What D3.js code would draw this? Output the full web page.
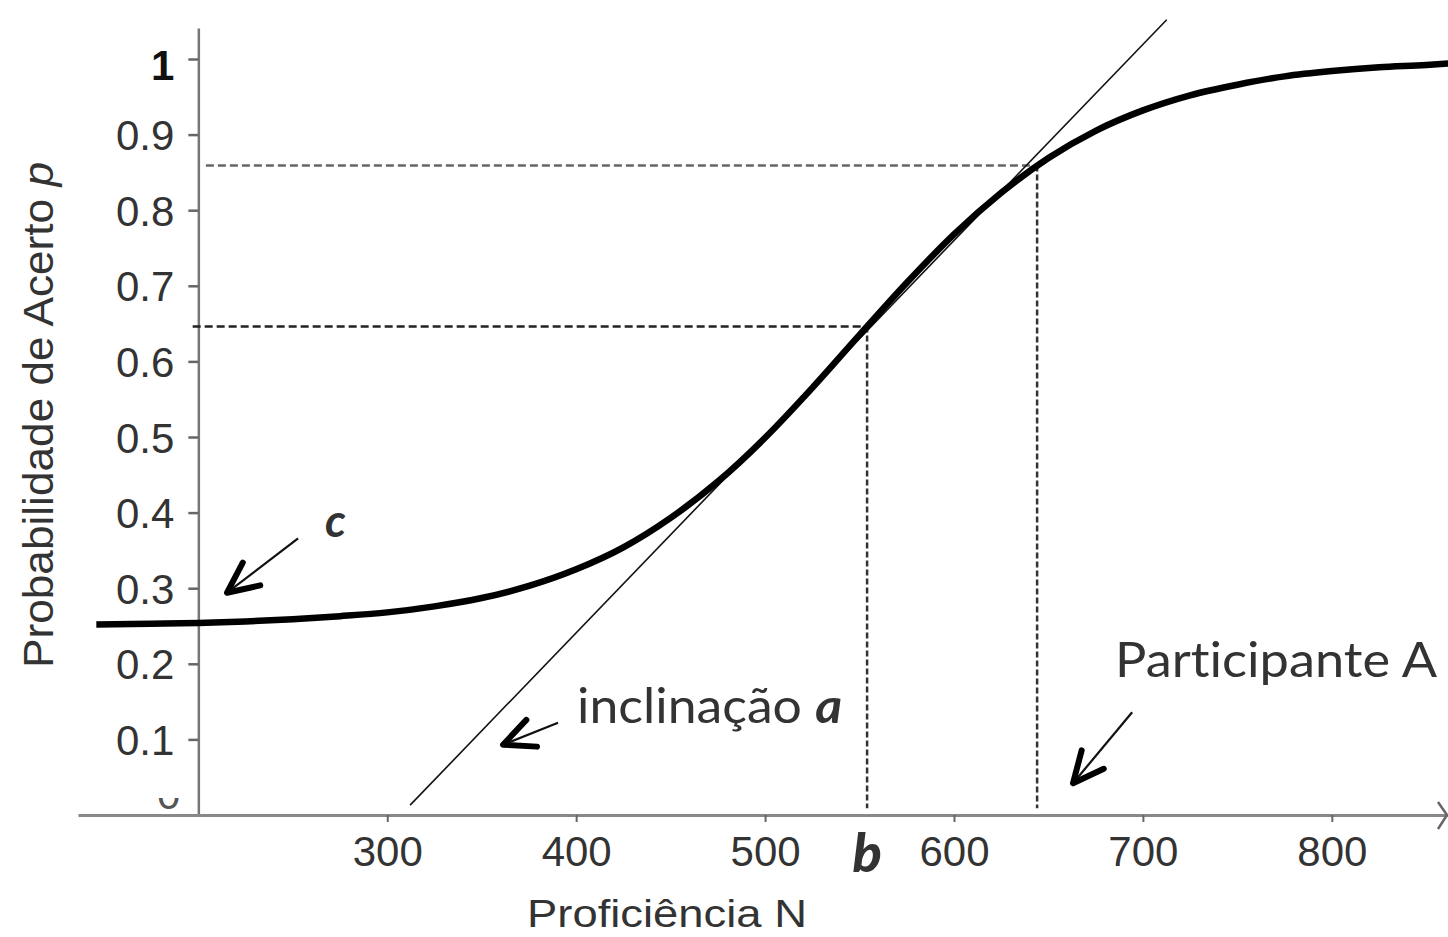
<!DOCTYPE html>
<html>
<head>
<meta charset="utf-8">
<script src="https://cdn.jsdelivr.net/npm/d3@7"></script>
<style>
  body { margin: 0; background: #fff; }
  svg { display: block; }
  text { font-variant-ligatures: none; }
</style>
</head>
<body>
<script>
// Curva caracteristica do item
var proficiencia = [146, 175, 200, 225, 250, 275, 300, 325, 350, 375, 400, 425, 450, 475, 500,
                    525, 550, 575, 600, 625, 650, 675, 700, 725, 750, 775, 800, 825, 850, 862];
var probabilidade = [0.252, 0.253, 0.254, 0.256, 0.259, 0.263, 0.268, 0.276, 0.287, 0.303, 0.325,
                     0.354, 0.393, 0.441, 0.499, 0.565, 0.635, 0.704, 0.768, 0.823, 0.869, 0.905,
                     0.932, 0.952, 0.966, 0.977, 0.984, 0.989, 0.992, 0.994];
var xTicks = [300, 400, 500, 600, 700, 800];
var yTicks = [0.1, 0.2, 0.3, 0.4, 0.5, 0.6, 0.7, 0.8, 0.9, 1];
var yTickLabels = ["0.1", "0.2", "0.3", "0.4", "0.5", "0.6", "0.7", "0.8", "0.9", "1"];
// pontos marcados: b e participante A
var marcaN = [554, 644];
var marcaP = [0.646, 0.859];
var marcaInicio = [197, 204];
// reta tangente (inclinacao a)
var tangenteN = [312.1, 712.6];
var tangenteP = [0.013, 1.052];

var width = 1448, height = 937;

var svg = d3.select("body").append("svg")
    .attr("width", width)
    .attr("height", height);

// Scales
var xScale = d3.scaleLinear().domain([136.3, 861.5]).range([78, 1448]);
var yScale = d3.scaleLinear().domain([0, 1.041]).range([815, 28]);

// Y axis
var yAxis = d3.axisLeft(yScale)
    .tickValues(yTicks)
    .tickFormat(function(d, i) { return yTickLabels[i]; })
    .tickSize(10)
    .tickSizeOuter(0)
    .tickPadding(14);
var gy = svg.append("g")
    .attr("transform", "translate(" + xScale(200) + ",0)")
    .call(yAxis);
gy.select(".domain").attr("stroke", "#777").attr("stroke-width", 2.5);
gy.selectAll(".tick line").attr("stroke", "#666").attr("stroke-width", 2.5);
gy.selectAll(".tick text")
    .attr("font-family", "'Liberation Sans', Arial, sans-serif")
    .attr("font-size", 42)
    .attr("fill", "#333")
    .attr("dy", "0.36em");
gy.selectAll(".tick text").filter(function(d) { return d === 1; })
    .attr("font-weight", "bold").attr("fill", "#111").attr("dy", "0.5em");

// "0" partially hidden below the axis
var clip = svg.append("clipPath").attr("id", "zeroClip");
clip.append("rect").attr("x", 150).attr("y", yScale(0) - 17).attr("width", 40).attr("height", 11);
svg.append("text")
    .attr("clip-path", "url(#zeroClip)")
    .attr("x", xScale(200) - 18)
    .attr("y", yScale(0) - 6)
    .attr("text-anchor", "end")
    .attr("font-family", "'Liberation Sans', Arial, sans-serif")
    .attr("font-size", 42)
    .attr("fill", "#555")
    .text("0");

// X axis
var xAxis = d3.axisBottom(xScale)
    .tickValues(xTicks)
    .tickSize(7)
    .tickSizeOuter(0)
    .tickPadding(14);
var gx = svg.append("g")
    .attr("transform", "translate(0," + yScale(0) + ")")
    .call(xAxis);
gx.select(".domain").attr("stroke", "#888").attr("stroke-width", 3);
gx.selectAll(".tick line").attr("stroke", "#666").attr("stroke-width", 2);
gx.selectAll(".tick text")
    .attr("font-family", "'Liberation Sans', Arial, sans-serif")
    .attr("font-size", 42)
    .attr("fill", "#333")
    .attr("dy", "0.72em");
// arrow head at the end of the x axis
var xEnd = xScale.range()[1];
svg.append("path")
    .attr("d", "M" + (xEnd - 10) + "," + (yScale(0) - 13) + "L" + (xEnd - 1) + "," + yScale(0) +
               "L" + (xEnd - 10) + "," + (yScale(0) + 14))
    .attr("fill", "none").attr("stroke", "#666").attr("stroke-width", 2.5);

// Axis titles
svg.append("text")
    .attr("x", 527).attr("y", 927)
    .attr("font-family", "'Liberation Sans', Arial, sans-serif")
    .attr("font-size", 38)
    .attr("fill", "#333")
    .attr("textLength", 280)
    .attr("lengthAdjust", "spacingAndGlyphs")
    .text("Proficiência N");

var yTitle = svg.append("text")
    .attr("transform", "translate(53,668) rotate(-90)")
    .attr("font-family", "'Liberation Sans', Arial, sans-serif")
    .attr("font-size", 42)
    .attr("fill", "#333")
    .attr("textLength", 506)
    .attr("lengthAdjust", "spacingAndGlyphs");
yTitle.append("tspan").text("Probabilidade de Acerto ");
yTitle.append("tspan").attr("font-style", "italic").text("p");

// Dashed reference lines
marcaN.forEach(function(n, i) {
  svg.append("line")
      .attr("x1", xScale(marcaInicio[i])).attr("x2", xScale(n))
      .attr("y1", yScale(marcaP[i])).attr("y2", yScale(marcaP[i]))
      .attr("stroke", i === 0 ? "#222" : "#666")
      .attr("stroke-width", 2.5)
      .attr("stroke-dasharray", "8,4");
  svg.append("line")
      .attr("x1", xScale(n)).attr("x2", xScale(n))
      .attr("y1", yScale(marcaP[i])).attr("y2", yScale(0.009))
      .attr("stroke", "#333")
      .attr("stroke-width", 2.5)
      .attr("stroke-dasharray", "6,3");
});

// Tangent line
svg.append("line")
    .attr("x1", xScale(tangenteN[0])).attr("y1", yScale(tangenteP[0]))
    .attr("x2", xScale(tangenteN[1])).attr("y2", yScale(tangenteP[1]))
    .attr("stroke", "#111").attr("stroke-width", 1.6);

// Item characteristic curve
var line = d3.line()
    .x(function(d, i) { return xScale(proficiencia[i]); })
    .y(function(d) { return yScale(d); })
    .curve(d3.curveMonotoneX);
svg.append("path")
    .attr("d", line(probabilidade))
    .attr("fill", "none")
    .attr("stroke", "#000")
    .attr("stroke-width", 6.5)
    .attr("stroke-linecap", "butt");

// Hand-drawn style arrows: [tailN, tailP, tipN, tipP]
var setas = [[252.8, 0.366, 215.2, 0.294], [390.4, 0.122, 361.3, 0.093], [694.3, 0.136, 663.0, 0.042]];
setas.forEach(function(s) {
  var x0 = xScale(s[0]), y0 = yScale(s[1]), x1 = xScale(s[2]), y1 = yScale(s[3]);
  svg.append("line")
      .attr("x1", x0).attr("y1", y0).attr("x2", x1).attr("y2", y1)
      .attr("stroke", "#111").attr("stroke-width", 2.2);
  var ang = Math.atan2(y0 - y1, x0 - x1);
  var len = 34, spread = 25 * Math.PI / 180;
  var w1 = [x1 + len * Math.cos(ang - spread), y1 + len * Math.sin(ang - spread)];
  var w2 = [x1 + len * Math.cos(ang + spread), y1 + len * Math.sin(ang + spread)];
  svg.append("path")
      .attr("d", "M" + w1 + "L" + x1 + "," + y1 + "L" + w2)
      .attr("fill", "none").attr("stroke", "#000").attr("stroke-width", 6)
      .attr("stroke-linecap", "round").attr("stroke-linejoin", "round");
});

// Annotation labels
var fonteNota = "Lato, 'Open Sans', sans-serif";
svg.append("text")
    .attr("x", xScale(267.1)).attr("y", yScale(0.368))
    .attr("font-family", fonteNota).attr("font-size", 46)
    .attr("font-weight", "bold").attr("font-style", "italic")
    .attr("fill", "#333").text("c");

var incl = svg.append("text")
    .attr("x", xScale(400.5)).attr("y", yScale(0.122))
    .attr("font-family", fonteNota).attr("font-size", 48)
    .attr("fill", "#333")
    .attr("textLength", 265)
    .attr("lengthAdjust", "spacingAndGlyphs");
incl.append("tspan").text("inclinação ");
incl.append("tspan").attr("font-weight", "bold").attr("font-style", "italic").text("a");

svg.append("text")
    .attr("x", xScale(685.3)).attr("y", yScale(0.183))
    .attr("font-family", fonteNota).attr("font-size", 48)
    .attr("fill", "#333")
    .attr("textLength", 322)
    .attr("lengthAdjust", "spacingAndGlyphs")
    .text("Participante A");

svg.append("text")
    .attr("x", xScale(marcaN[0])).attr("y", 872)
    .attr("text-anchor", "middle")
    .attr("font-family", fonteNota).attr("font-size", 54)
    .attr("font-weight", 900).attr("font-style", "italic")
    .attr("fill", "#333").text("b");
</script>
</body>
</html>
